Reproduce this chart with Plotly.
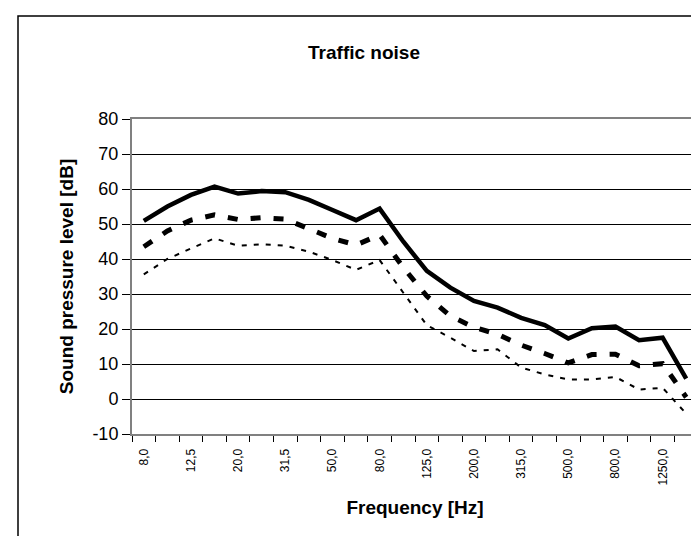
import plotly.graph_objects as go

# ---- data -------------------------------------------------------------
freq_labels = ["8,0", "10,0", "12,5", "16,0", "20,0", "25,0", "31,5", "40,0",
               "50,0", "63,0", "80,0", "100,0", "125,0", "160,0", "200,0",
               "250,0", "315,0", "400,0", "500,0", "630,0", "800,0",
               "1000,0", "1250,0", "1600,0"]

level_high = [50.9, 55.0, 58.3, 60.7, 58.7, 59.4, 59.1, 56.9, 54.0, 51.1, 54.4,
              45.0, 36.6, 31.8, 28.0, 26.1, 23.2, 21.1, 17.3, 20.2, 20.7, 16.8,
              17.5, 5.8]
level_mid = [43.5, 48.0, 51.1, 52.6, 51.3, 51.8, 51.4, 48.8, 45.9, 44.0, 46.9,
             37.6, 29.4, 23.7, 20.5, 18.5, 15.4, 13.0, 10.3, 12.7, 12.8, 9.5,
             10.1, 0.5]
level_low = [35.6, 40.0, 43.0, 45.9, 43.8, 44.2, 43.8, 42.1, 39.7, 36.9, 39.7,
             30.5, 21.1, 17.5, 13.7, 14.2, 9.0, 7.0, 5.6, 5.6, 6.3, 2.7,
             3.2, -4.2]

y_ticks = [-10, 0, 10, 20, 30, 40, 50, 60, 70, 80]
y_tick_text = ["-10", "0", "10", "20", "30", "40", "50", "60", "70", "80"]

# ---- figure -----------------------------------------------------------
W, H = 699, 536
ML, MR, MT, MB = 124, 9, 111, 110
PW, PH = W - ML - MR, H - MT - MB
FONT = "Liberation Sans, Arial, sans-serif"

idx = list(range(len(freq_labels)))

fig = go.Figure()
fig.add_trace(go.Scatter(x=idx, y=level_low, mode="lines", showlegend=False,
                         line=dict(color="black", width=2, dash="5px,7px")))
fig.add_trace(go.Scatter(x=idx, y=level_mid, mode="lines", showlegend=False,
                         line=dict(color="black", width=5, dash="10px,13px")))
fig.add_trace(go.Scatter(x=idx, y=level_high, mode="lines", showlegend=False,
                         line=dict(color="black", width=4.5)))


def px_x(p):
    return (p - ML) / PW


def px_y(p):
    return (H - MB - p) / PH


fig.update_layout(
    width=W, height=H,
    margin=dict(l=ML, r=MR, t=MT, b=MB, autoexpand=False),
    paper_bgcolor="white", plot_bgcolor="white",
    font=dict(family=FONT, color="black"),
    title=dict(text="Traffic noise", xref="container", yref="container",
               x=356 / W, y=1 - 44 / H, xanchor="center", yanchor="middle",
               font=dict(size=19, weight="bold", family=FONT)),
    xaxis=dict(
        range=[-0.5, len(idx) - 0.5], tickmode="array",
        tickvals=idx[::2], ticktext=freq_labels[::2], tickangle=-90,
        tickfont=dict(size=12), ticks="", ticklabelstandoff=8,
        showgrid=False, zeroline=False,
        showline=True, linecolor="#808080", linewidth=2, mirror=True,
        minor=dict(tickmode="array",
                   tickvals=[i - 0.5 for i in range(len(idx) + 1)],
                   ticks="outside", ticklen=6, tickcolor="black",
                   tickwidth=1, showgrid=False),
        title=dict(text="Frequency [Hz]", standoff=16,
                   font=dict(size=19, weight="bold")),
        automargin=False,
    ),
    yaxis=dict(
        range=[-10, 80], tickmode="array", tickvals=y_ticks,
        ticktext=y_tick_text,
        tickfont=dict(size=18), ticks="outside", ticklen=8,
        tickcolor="black", tickwidth=1,
        showgrid=True, gridcolor="black", gridwidth=1, zeroline=False,
        showline=True, linecolor="#808080", linewidth=2, mirror=True,
        title=dict(text="Sound pressure level [dB]", standoff=14,
                   font=dict(size=19, weight="bold")),
        automargin=False,
    ),
    shapes=[dict(type="rect", xref="paper", yref="paper", layer="below",
                 x0=px_x(10), x1=px_x(697), y0=px_y(560), y1=px_y(8),
                 line=dict(color="black", width=1.5))],
)

fig.write_html("out.html")
